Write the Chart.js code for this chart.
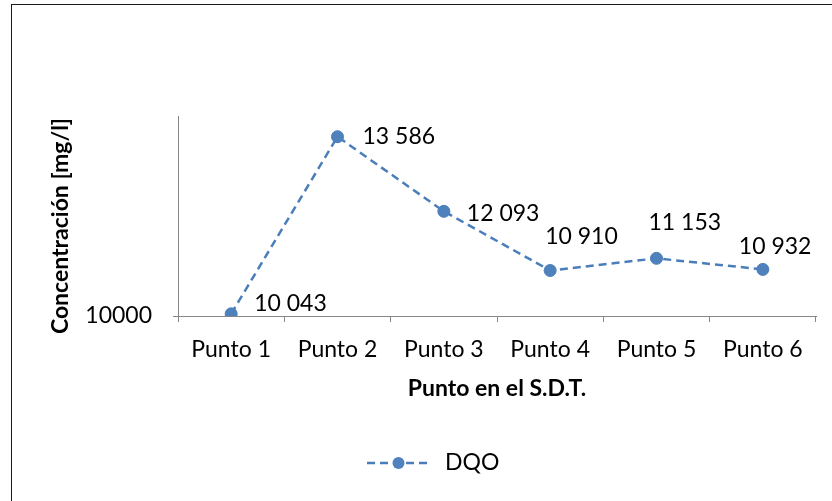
<!DOCTYPE html>
<html>
<head>
<meta charset="utf-8">
<script src="https://cdn.jsdelivr.net/npm/chart.js@4/dist/chart.umd.min.js"></script>
<style>
  html, body { margin: 0; padding: 0; background: #ffffff; }
  #wrap { width: 832px; height: 501px; position: relative; }
</style>
</head>
<body>
<div id="wrap"><canvas id="c" width="832" height="501"></canvas></div>
<script>
// Data
const categories = ['Punto 1', 'Punto 2', 'Punto 3', 'Punto 4', 'Punto 5', 'Punto 6'];
const dqoValues = [10043, 13586, 12093, 10910, 11153, 10932];
const yTickValues = [10000];
const seriesName = 'DQO';
const xAxisTitle = 'Punto en el S.D.T.';
const yAxisTitle = 'Concentración [mg/l]';

// Placement of each value label relative to its point: [dx to left edge, dy to middle]
const labelOffsets = [[23, -10], [25, 0], [23, 2], [-5, -34], [-8, -36], [-24, -23]];

const FONT = 'Lato, "Open Sans", sans-serif';
const FONT_SIZE = 23;
const AXIS_GREY = '#868686';
const LINE_BLUE = '#4A7EBB';
const MARK_BLUE = '#4F81BD';

// Y title centre (rotated text)
const Y_TITLE_X = 61;
const Y_TITLE_Y = 226;

function fmt(v) {
  return String(v).replace(/\B(?=(\d{3})+(?!\d))/g, ' ');
}

// Outer frame of the chart
const framePlugin = {
  id: 'frame',
  beforeDraw(chart) {
    const ctx = chart.ctx;
    ctx.save();
    ctx.fillStyle = '#ffffff';
    ctx.fillRect(0, 0, chart.width, chart.height);
    ctx.strokeStyle = '#1a1a1a';
    ctx.lineWidth = 1;
    ctx.strokeRect(11.5, 4.5, 1000, 1000);
    ctx.restore();
  }
};

// Rotated title of the value axis
const yTitlePlugin = {
  id: 'yTitle',
  afterDraw(chart) {
    const ctx = chart.ctx;
    ctx.save();
    ctx.translate(Y_TITLE_X, Y_TITLE_Y);
    ctx.rotate(-Math.PI / 2);
    ctx.font = 'bold ' + FONT_SIZE + 'px ' + FONT;
    ctx.fillStyle = '#000000';
    ctx.textAlign = 'center';
    ctx.textBaseline = 'middle';
    ctx.fillText(yAxisTitle, 0, 0);
    ctx.restore();
  }
};

// Value labels next to the markers
const valueLabelPlugin = {
  id: 'valueLabels',
  afterDatasetsDraw(chart) {
    const ctx = chart.ctx;
    const meta = chart.getDatasetMeta(0);
    const data = chart.data.datasets[0].data;
    ctx.save();
    ctx.font = FONT_SIZE + 'px ' + FONT;
    ctx.fillStyle = '#000000';
    ctx.textAlign = 'left';
    ctx.textBaseline = 'middle';
    meta.data.forEach((pt, i) => {
      const off = labelOffsets[i] || [10, 0];
      ctx.fillText(fmt(data[i]), pt.x + off[0], pt.y + off[1]);
    });
    ctx.restore();
  }
};

// Legend: dashed line with marker, then the series name
const legendPlugin = {
  id: 'lineLegend',
  afterDraw(chart) {
    const ctx = chart.ctx;
    const ds = chart.data.datasets[0];
    const x0 = 367, x1 = 430, y = 463;
    ctx.save();
    ctx.strokeStyle = ds.borderColor;
    ctx.lineWidth = ds.borderWidth;
    ctx.setLineDash(ds.borderDash);
    ctx.beginPath();
    ctx.moveTo(x0, y);
    ctx.lineTo(x1, y);
    ctx.stroke();
    ctx.setLineDash([]);
    ctx.fillStyle = ds.pointBackgroundColor;
    ctx.beginPath();
    ctx.arc((x0 + x1) / 2, y, ds.pointRadius, 0, Math.PI * 2);
    ctx.fill();
    ctx.font = FONT_SIZE + 'px ' + FONT;
    ctx.fillStyle = '#000000';
    ctx.textAlign = 'left';
    ctx.textBaseline = 'middle';
    ctx.fillText(ds.label, 445, y);
    ctx.restore();
  }
};

function draw() {
  new Chart(document.getElementById('c'), {
    type: 'line',
    data: {
      labels: categories,
      datasets: [{
        label: seriesName,
        data: dqoValues,
        borderColor: LINE_BLUE,
        borderWidth: 2.5,
        borderDash: [8, 5],
        pointRadius: 6,
        pointHoverRadius: 6,
        pointBackgroundColor: MARK_BLUE,
        pointBorderColor: LINE_BLUE,
        pointBorderWidth: 1,
        tension: 0,
        fill: false
      }]
    },
    options: {
      responsive: false,
      animation: false,
      devicePixelRatio: 1,
      layout: { padding: { top: 116, right: 16, left: 0, bottom: 0 } },
      plugins: {
        legend: { display: false },
        tooltip: { enabled: false }
      },
      scales: {
        x: {
          type: 'category',
          offset: true,
          grid: {
            offset: true,
            drawOnChartArea: false,
            drawTicks: true,
            tickLength: 6,
            tickColor: AXIS_GREY,
            tickWidth: 1
          },
          border: { color: AXIS_GREY, width: 1 },
          ticks: {
            color: '#000000',
            font: { family: FONT, size: FONT_SIZE },
            padding: 14,
            maxRotation: 0,
            autoSkip: false
          },
          title: {
            display: true,
            text: xAxisTitle,
            color: '#000000',
            font: { family: FONT, size: FONT_SIZE, weight: 'bold' },
            padding: { top: 0, bottom: 99 }
          },
          afterFit(scale) { scale.height = 185; }
        },
        y: {
          type: 'linear',
          min: 10000,
          max: 14000,
          grid: {
            drawOnChartArea: false,
            drawTicks: true,
            tickLength: 5,
            tickColor: AXIS_GREY,
            tickWidth: 1
          },
          border: { color: AXIS_GREY, width: 1 },
          ticks: {
            color: '#000000',
            font: { family: FONT, size: FONT_SIZE },
            padding: 21,
            callback: (v) => String(v)
          },
          afterBuildTicks(scale) {
            scale.ticks = yTickValues.map(v => ({ value: v }));
          },
          title: { display: false },
          afterFit(scale) { scale.width = 178; }
        }
      }
    },
    plugins: [framePlugin, valueLabelPlugin, legendPlugin, yTitlePlugin]
  });
}

if (document.fonts && document.fonts.load) {
  Promise.all([
    document.fonts.load(FONT_SIZE + 'px Lato'),
    document.fonts.load('bold ' + FONT_SIZE + 'px Lato')
  ]).then(draw, draw);
} else {
  draw();
}
</script>
</body>
</html>
